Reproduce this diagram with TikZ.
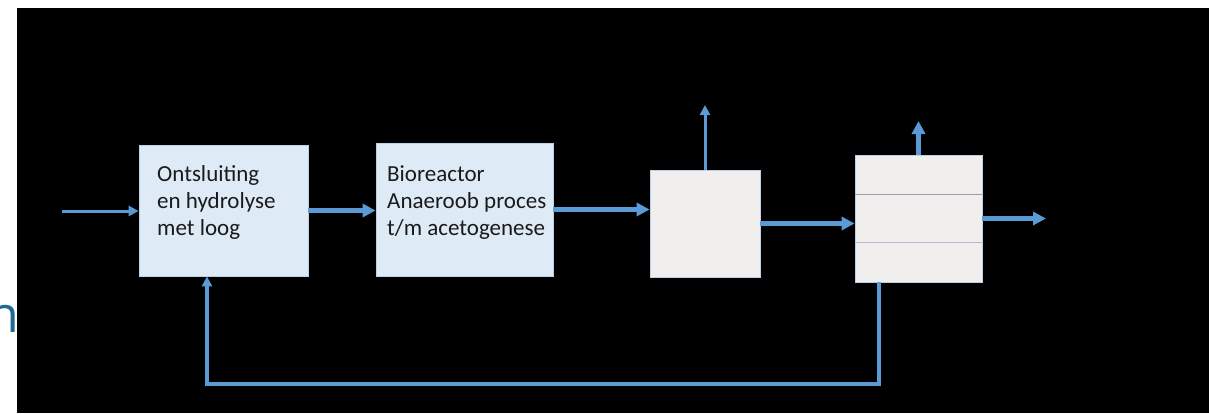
\documentclass[tikz,border=0pt]{standalone}
\usepackage{fontspec}
\setmainfont{Carlito}
\newfontfamily\fragfont{Open Sans}
\usetikzlibrary{arrows.meta,calc}
\definecolor{arr}{HTML}{5B9BD5}
\definecolor{boxblue}{HTML}{DEEBF7}
\definecolor{boxgray}{HTML}{F1EFED}
\definecolor{edgeblue}{HTML}{B9D1EA}
\definecolor{fragblue}{HTML}{1F6A94}
\definecolor{txt}{HTML}{1A1A1A}
\definecolor{line1}{HTML}{9C9CA4}
\definecolor{line2}{HTML}{B4B4DC}
\tikzset{
  bluebox/.style={draw=edgeblue, line width=0.8pt, fill=boxblue, inner sep=0pt},
  graybox/.style={draw=edgeblue, line width=0.8pt, fill=boxgray, inner sep=0pt},
  lbl/.style={anchor=base west, inner sep=0pt, text=txt, font=\fontsize{23}{27}\selectfont},
  thinarrow/.style={draw=arr, line width=3pt, -{Triangle[length=10pt,width=10pt]}},
  thickarrow/.style={draw=arr, line width=4.6pt, -{Triangle[length=13pt,width=13pt]}},
  fbline/.style={draw=arr, line width=3.2pt},
}
\begin{document}
\begin{tikzpicture}[x=1pt,y=-1pt]
\useasboundingbox (0,0) rectangle (1209,413);
\clip (0,0) rectangle (1209,413);
\fill[white] (0,0) rectangle (1209,413);
\node[font=\fragfont\fontsize{50}{60}\selectfont, text=fragblue, anchor=base east, inner sep=0pt] (frag) at (19,332) {n};
\fill[black] (17,8) rectangle (1209,413);

% boxes
\node[bluebox, minimum width=169pt, minimum height=131pt] (b1) at (223.5,210.5) {};
\node[bluebox, minimum width=177pt, minimum height=133pt] (b2) at (464.5,209.5) {};
\node[graybox, minimum width=110pt, minimum height=107pt] (b3) at (705,223.5) {};
\node[graybox, minimum width=127pt, minimum height=127pt] (b4) at (918.5,218.5) {};
\draw[draw=line1, line width=1pt] ($(b4.north west)+(0.5,40)$) -- ($(b4.north east)+(-0.5,40)$);
\draw[draw=line2, line width=1.3pt] ($(b4.north west)+(0.5,88)$) -- ($(b4.north east)+(-0.5,88)$);

% labels
\node[lbl] (t1) at (157,181.5) {\begin{tabular}[t]{@{}l@{}}Ontsluiting\\en hydrolyse\\met loog\end{tabular}};
\node[lbl] (t2) at (387,181.5) {\begin{tabular}[t]{@{}l@{}}Bioreactor\\Anaeroob proces\\t/m acetogenese\end{tabular}};

% connectors
\coordinate (in) at (62,211);
\coordinate (up3) at (705,105);
\coordinate (up4) at (918.5,121);
\coordinate (out) at (1046,218.5);
\coordinate (fbA) at (879,384);
\coordinate (fbB) at (207,384);

\draw[thinarrow] (in) -- (in -| b1.west);
\draw[thickarrow] (b1.east) -- (b1.east -| b2.west);
\draw[thickarrow] (b2.east) -- (b2.east -| b3.west);
\draw[thickarrow] (b3.east) -- (b3.east -| b4.west);
\draw[thickarrow] (b4.east) -- (out);
\draw[thinarrow] (b3.north) -- (up3);
\draw[thickarrow] (b4.north) -- (up4);
\draw[fbline, -{Triangle[length=10pt,width=10pt]}, line join=miter] (fbA |- b4.south) -- (fbA) -- (fbB) -- (fbB |- b1.south);
\end{tikzpicture}
\end{document}
